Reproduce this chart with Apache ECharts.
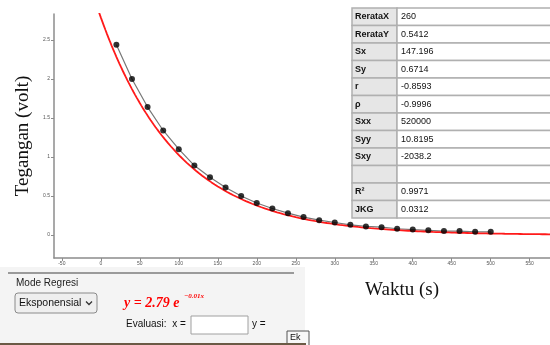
<!DOCTYPE html>
<html>
<head>
<meta charset="utf-8">
<script src="https://cdn.jsdelivr.net/npm/echarts@6/dist/echarts.min.js"></script>
<style>
  html, body { margin: 0; padding: 0; background: #fff; }
  #chart { width: 550px; height: 345px; }
</style>
</head>
<body>
<div id="chart"></div>
<script>
// measured points: waktu (s) vs tegangan (volt)
var waktu = [20, 40, 60, 80, 100, 120, 140, 160, 180, 200, 220, 240, 260,
             280, 300, 320, 340, 360, 380, 400, 420, 440, 460, 480, 500];
var tegangan = [2.44, 2.00, 1.64, 1.34, 1.10, 0.89, 0.74, 0.61, 0.50, 0.41, 0.34, 0.28, 0.23,
                0.19, 0.16, 0.13, 0.11, 0.10, 0.08, 0.07, 0.06, 0.05, 0.05, 0.04, 0.04];

// tick labels
var xTicks = [-50, 0, 50, 100, 150, 200, 250, 300, 350, 400, 450, 500, 550];
var yTicks = [0, 0.5, 1, 1.5, 2, 2.5];

// regression statistics table
var statLabels = ['RerataX', 'RerataY', 'Sx', 'Sy', 'r', 'ρ', 'Sxx', 'Syy', 'Sxy', '', 'R²', 'JKG'];
var statValues = ['260', '0.5412', '147.196', '0.6714', '-0.8593', '-0.9996', '520000', '10.8195', '-2038.2', '', '0.9971', '0.0312'];

// exponential fit shown in the panel: y = 2.79 e^(-0.01x)
var fitA = 2.79;
var fitB = -0.01;

var chart = echarts.init(document.getElementById('chart'));

var points = waktu.map(function (t, i) { return [t, tegangan[i]]; });

// fitted curve
var fitCurve = [];
for (var t = -10; t <= 580; t += 2) {
  fitCurve.push([t, fitA * Math.exp(fitB * t)]);
}

// table graphics
var table = [];
var rowH = 17.5, top0 = 8, labW = 45, x0 = 352;
statLabels.forEach(function (lab, i) {
  var y = top0 + i * rowH;
  table.push({
    type: 'rect', z: 100,
    shape: { x: x0, y: y, width: labW, height: rowH },
    style: { fill: '#e6e6e6', stroke: '#b0b0b0', lineWidth: 1.5 }
  });
  table.push({
    type: 'rect', z: 100,
    shape: { x: x0 + labW, y: y, width: 200, height: rowH },
    style: { fill: '#ffffff', stroke: '#b0b0b0', lineWidth: 1.5 }
  });
  table.push({
    type: 'text', z: 101,
    style: { text: lab, x: x0 + 3, y: y + rowH / 2, fill: '#111',
             font: 'bold 9px "Liberation Sans", Arial', verticalAlign: 'middle' }
  });
  table.push({
    type: 'text', z: 101,
    style: { text: statValues[i], x: x0 + labW + 4, y: y + rowH / 2, fill: '#111',
             font: '9px "Liberation Sans", Arial', verticalAlign: 'middle' }
  });
});

// bottom-left regression panel
var panel = [
  { type: 'rect', z: 90, shape: { x: 0, y: 267, width: 305, height: 78 },
    style: { fill: '#f4f4f4' } },
  { type: 'line', z: 91, shape: { x1: 8, y1: 273, x2: 294, y2: 273 },
    style: { stroke: '#9a9a9a', lineWidth: 2 } },
  { type: 'text', z: 91,
    style: { text: 'Mode Regresi', x: 16, y: 283, fill: '#222',
             font: '10px "Liberation Sans", Arial', verticalAlign: 'middle' } },
  { type: 'rect', z: 91, shape: { x: 15, y: 293, width: 82, height: 20, r: 3 },
    style: { fill: '#efefef', stroke: '#8a8a8a', lineWidth: 1 } },
  { type: 'text', z: 92,
    style: { text: 'Eksponensial', x: 19, y: 303.5, fill: '#111',
             font: '10.5px "Liberation Sans", Arial', verticalAlign: 'middle' } },
  { type: 'polyline', z: 92, shape: { points: [[86, 301.5], [89, 304.5], [92, 301.5]] },
    style: { stroke: '#333', lineWidth: 1.3, fill: null } },
  { type: 'text', z: 91,
    style: { text: 'y = 2.79 e', x: 124, y: 303, fill: '#ff0000',
             font: 'italic bold 14px "Liberation Serif", serif', verticalAlign: 'middle' } },
  { type: 'text', z: 91,
    style: { text: '−0.01x', x: 184, y: 296.5, fill: '#ff0000',
             font: 'italic bold 7px "Liberation Serif", serif', verticalAlign: 'middle' } },
  { type: 'text', z: 91,
    style: { text: 'Evaluasi:  x =', x: 126, y: 324, fill: '#111',
             font: '10px "Liberation Sans", Arial', verticalAlign: 'middle' } },
  { type: 'rect', z: 91, shape: { x: 191, y: 316, width: 57, height: 18 },
    style: { fill: '#ffffff', stroke: '#a0a0a0', lineWidth: 1 } },
  { type: 'text', z: 91,
    style: { text: 'y =', x: 252, y: 324, fill: '#111',
             font: '10px "Liberation Sans", Arial', verticalAlign: 'middle' } },
  { type: 'rect', z: 91, shape: { x: 287, y: 331, width: 22, height: 16 },
    style: { fill: '#f7f7f7', stroke: '#555', lineWidth: 1 } },
  { type: 'text', z: 92,
    style: { text: 'Ek', x: 290, y: 338, fill: '#111',
             font: '9px "Liberation Sans", Arial', verticalAlign: 'middle' } },
  { type: 'line', z: 93, shape: { x1: 0, y1: 344, x2: 306, y2: 344 },
    style: { stroke: '#6b5a45', lineWidth: 2 } }
];

// axis titles
var titles = [
  { type: 'text', z: 50, rotation: Math.PI / 2, x: 23, y: 136,
    style: { text: 'Tegangan (volt)', x: 0, y: 0, fill: '#111',
             font: '19px "Liberation Serif", "Times New Roman", serif',
             align: 'center', verticalAlign: 'middle' } },
  { type: 'text', z: 50,
    style: { text: 'Waktu (s)', x: 402, y: 290, fill: '#111',
             font: '19px "Liberation Serif", "Times New Roman", serif',
             align: 'center', verticalAlign: 'middle' } }
];

var option = {
  backgroundColor: '#ffffff',
  animation: false,
  grid: { left: 54, top: 14, width: 496, height: 244, containLabel: false },
  xAxis: {
    type: 'value',
    min: -60,
    max: 576,
    axisLine: { show: true, onZero: false, lineStyle: { color: '#8c8c8c', width: 1.5 } },
    axisTick: { show: true, length: 3, customValues: xTicks, lineStyle: { color: '#8c8c8c' } },
    axisLabel: { customValues: xTicks, fontSize: 5, color: '#555', margin: 3,
                 fontFamily: '"Liberation Sans", Arial' },
    splitLine: { show: false }
  },
  yAxis: {
    type: 'value',
    min: -0.295,
    max: 2.833,
    axisLine: { show: true, onZero: false, lineStyle: { color: '#8c8c8c', width: 1.5 } },
    axisTick: { show: true, length: 3, customValues: yTicks, lineStyle: { color: '#8c8c8c' } },
    axisLabel: { customValues: yTicks, fontSize: 5, color: '#555', margin: 4,
                 fontFamily: '"Liberation Sans", Arial' },
    splitLine: { show: false }
  },
  series: [
    {
      type: 'line',
      data: points,
      symbol: 'none',
      lineStyle: { color: '#777', width: 1.2 },
      z: 2
    },
    {
      type: 'line',
      data: fitCurve,
      symbol: 'none',
      smooth: false,
      clip: true,
      lineStyle: { color: '#ff1a1a', width: 1.8 },
      z: 3
    },
    {
      type: 'scatter',
      data: points,
      symbol: 'circle',
      symbolSize: 6,
      itemStyle: { color: '#000' },
      z: 4
    }
  ],
  graphic: titles.concat(table, panel)
};

chart.setOption(option);
</script>
</body>
</html>
